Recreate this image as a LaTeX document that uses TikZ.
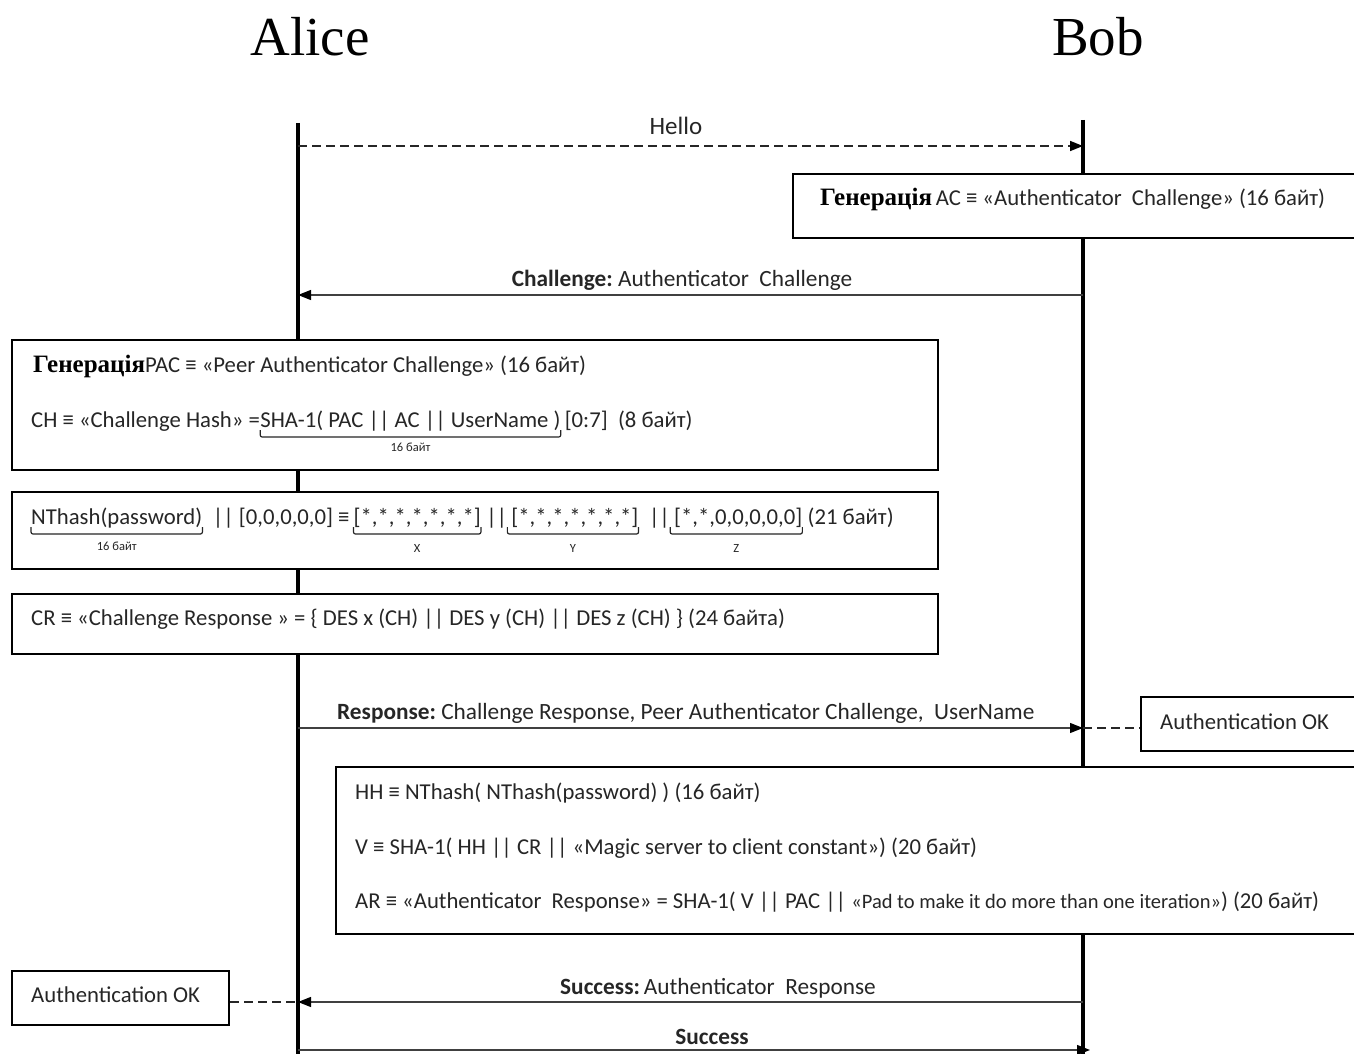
\documentclass[tikz,border=0pt]{standalone}
\usepackage{fontspec}
\setmainfont{Carlito}
\newfontfamily\tnr{Liberation Serif}
\newcommand\genfont{\tnr\bfseries\fontsize{25}{29}\selectfont}
\usetikzlibrary{arrows.meta,fit}
\definecolor{txt}{HTML}{262626}
\begin{document}
\begin{tikzpicture}[x=1pt,y=-1pt,
  every node/.style={inner sep=0pt, text=txt},
  life/.style={line width=4pt, draw=black},
  box/.style={draw=black, line width=2.6pt, fill=white, inner sep=0pt},
  msg/.style={draw=black!75, line width=1.3pt, -{Triangle[length=13pt,width=10pt,color=black]}},
  dsh/.style={draw=black!85, line width=1.6pt, dash pattern=on 9pt off 5pt},
  t/.style={anchor=base west, font=\fontsize{22.7}{26}\selectfont},
  tc/.style={anchor=base, font=\fontsize{23.3}{27}\selectfont},
  small/.style={anchor=base, font=\fontsize{12.5}{14}\selectfont},
  brk/.style={line width=1.2pt, draw=black!85, rounded corners=2pt}
]
\useasboundingbox (0,0) rectangle (1354,1054);
\clip (0,0) rectangle (1354,1054);

% headers
\node[font=\tnr\fontsize{55}{60}\selectfont, text=black, anchor=base] (alice) at (310,56) {Alice};
\node[font=\tnr\fontsize{55}{60}\selectfont, text=black, anchor=base] (bob) at (1098,56) {Bob};

% lifelines
\coordinate (a0) at (298,123);
\coordinate (a1) at (298,1054);
\coordinate (b0) at (1083,120);
\coordinate (b1) at (1083,1054);
\draw[life] (a0) -- (a1);
\draw[life] (b0) -- (b1);

% Hello
\coordinate (aH) at (298,146);
\coordinate (bH) at (1083,146);
\draw[dsh, -{Triangle[length=13pt,width=10pt,color=black]}] (aH) -- (bH);
\node[tc, font=\fontsize{25}{29}\selectfont] (hello) at (676,135) {Hello};

% AC box
\node[box, fit={(793,174) (1380,238)}] (bAC) {};
\node[t] (ac1) at (820,205) {\textcolor{black}{\genfont Генерація}\,AC ≡ «Authenticator\ \ Challenge» (16 байт)};

% Challenge
\coordinate (bC) at (1083,295);
\coordinate (aC) at (298,295);
\draw[msg] (bC) -- (aC);
\node[tc] (chl) at (682,286) {\textbf{Challenge:}\ Authenticator\ \ Challenge};

% PAC box
\node[box, fit={(12,340) (938,470)}] (bPAC) {};
\node[t] (p1) at (33,372) {\textcolor{black}{\genfont Генерація}PAC ≡ «Peer Authenticator Challenge» (16 байт)};
\node[t] (c1) at (31,427) {CH ≡ «Challenge Hash» =\ };
\node[t] (c2) at (c1.base east) {SHA-1( PAC || AC || UserName )};
\node[t] (c3) at (c2.base east) {\,[0:7]\ \ (8 байт)};
\draw[brk] ([yshift=-3pt]c2.base west) -- ([yshift=-10pt]c2.base west) -- ([yshift=-10pt]c2.base east) -- ([yshift=-3pt]c2.base east);
\node[small] (c2l) at ([yshift=-24pt]c2.base) {16 байт};

% NThash box
\node[box, fit={(12,492) (938,569)}] (bNT) {};
\node[t] (n1) at (31,524) {NThash(password)};
\node[t] (n2) at (n1.base east) {\ \ || [0,0,0,0,0] ≡\,};
\node[t] (n3) at (n2.base east) {[*,*,*,*,*,*,*]};
\node[t] (n4) at (n3.base east) {\ || };
\node[t] (n5) at (n4.base east) {\,[*,*,*,*,*,*,*]};
\node[t] (n6) at (n5.base east) {\ \ || };
\node[t] (n7) at (n6.base east) {\,[*,*,0,0,0,0,0]};
\node[t] (n8) at (n7.base east) {\ (21 байт)};
\foreach \n in {n1,n3,n5,n7}
  \draw[brk] ([yshift=-3pt]\n.base west) -- ([yshift=-10pt]\n.base west) -- ([yshift=-10pt]\n.base east) -- ([yshift=-3pt]\n.base east);
\node[small] (n1l) at ([yshift=-26pt]n1.base) {16 байт};
\node[small] (n3l) at ([yshift=-28pt]n3.base) {X};
\node[small] (n5l) at ([yshift=-28pt]n5.base) {Y};
\node[small] (n7l) at ([yshift=-28pt]n7.base) {Z};

% CR box
\node[box, fit={(12,594) (938,654)}] (bCR) {};
\node[t] (cr) at (31,625) {CR ≡ «Challenge Response » = \{ DES x (CH) || DES y (CH) || DES z (CH) \} (24 байта)};

% Response
\coordinate (aR) at (298,728);
\coordinate (bR) at (1083,728);
\draw[msg] (aR) -- (bR);
\node[t, font=\fontsize{23.3}{27}\selectfont] (resp) at (337,719) {\textbf{Response:}\ Challenge Response, Peer Authenticator Challenge,\ \ UserName};
\node[box, fit={(1141,697) (1380,751)}] (okR) {};
\node[t] (okRt) at (1160,729) {Authentication OK};
\draw[dsh] (bR) -- (okR.west |- bR);

% HH box
\node[box, fit={(336,767) (1380,934)}] (bHH) {};
\node[t] (h1) at (355,799) {HH ≡ NThash( NThash(password) ) (16 байт)};
\node[t] (h2) at (355,854) {V ≡ SHA-1( HH || CR || «Magic server to client constant») (20 байт)};
\node[t] (h3) at (355,908) {AR ≡ «Authenticator\ \ Response» = SHA-1( V || PAC || {\fontsize{20.5}{24}\selectfont«Pad to make it do more than one iteration»}) (20 байт)};

% Success
\coordinate (bS) at (1083,1002);
\coordinate (aS) at (298,1002);
\draw[msg] (bS) -- (aS);
\node[tc] (succ) at (718,994) {\textbf{Success:}\,Authenticator\ \ Response};
\node[box, fit={(12,971) (229,1025)}] (okL) {};
\node[t] (okLt) at (31,1002) {Authentication OK};
\draw[dsh] (okL.east |- aS) -- (aS);

% Success 2
\coordinate (aS2) at (298,1050);
\coordinate (bS2) at (1090,1050);
\draw[msg] (aS2) -- (bS2);
\node[tc] (succ2) at (712,1044) {\textbf{Success}};
\end{tikzpicture}
\end{document}
